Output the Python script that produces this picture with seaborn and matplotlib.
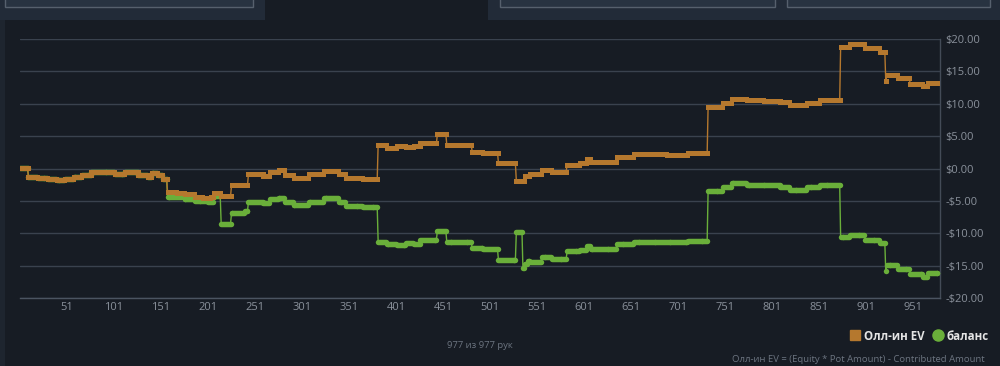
import numpy as np
import pandas as pd
import matplotlib
matplotlib.use("Agg")
import matplotlib.pyplot as plt
from matplotlib.lines import Line2D
from matplotlib.patches import Rectangle
import seaborn as sns

# ---------------- data ----------------
n_hands = 977
# All-in EV series: run start hands and levels ($)
ev_start = [1, 10, 20, 31, 40, 49, 58, 67, 77, 102, 113, 127, 137, 141, 148, 153, 158, 168, 176, 187,
            196, 204, 207, 215, 226, 244, 260, 267, 276, 283, 292, 308, 324, 340, 348, 366, 382, 391, 402, 412,
            420, 427, 445, 455, 482, 494, 510, 529, 538, 544, 556, 567, 583, 597, 604, 608, 636, 654, 689, 712,
            733, 749, 758, 774, 792, 810, 820, 838, 852, 874, 884, 900, 916, 922, 923, 935, 948, 962, 967]
ev_level = [0.1, -1.3, -1.45, -1.6, -1.75, -1.55, -1.35, -1.05, -0.47, -0.83, -0.52, -1.0, -1.25, -0.62, -0.94, -1.67, -3.65, -3.75, -4.0, -4.35,
            -4.5, -4.4, -3.75, -4.27, -2.6, -0.9, -1.1, -0.5, -0.2, -1.0, -1.4, -0.9, -0.4, -0.9, -1.5, -1.65, 3.7, 3.2, 3.5, 3.25,
            3.45, 3.9, 5.3, 3.7, 2.6, 2.4, 0.8, -1.9, -1.1, -0.8, -0.25, -0.5, 0.55, 0.9, 1.5, 1.0, 1.8, 2.2, 2.05, 2.35,
            9.5, 10.1, 10.8, 10.6, 10.5, 10.2, 9.8, 10.1, 10.55, 18.8, 19.2, 18.6, 18.0, 13.5, 14.45, 13.9, 13.1, 12.75, 13.25]
# Balance series
bal_start = [1, 10, 20, 31, 40, 49, 58, 67, 77, 102, 113, 127, 137, 141, 148, 153,
             158, 176, 187, 201, 207, 215, 226, 240, 244, 260, 267, 276, 283, 292, 308, 324, 340, 348, 366,
             382, 391, 402, 412, 420, 427, 445, 455, 482, 494, 510, 529, 536, 538, 541, 544, 556, 567, 583, 597,
             604, 608, 636, 654, 689, 712, 733, 749, 758, 774, 792, 810, 820, 838, 852, 874, 884, 900, 916, 922,
             923, 935, 948, 962, 967]
bal_level = [0.1, -1.3, -1.45, -1.6, -1.75, -1.55, -1.35, -1.05, -0.47, -0.83, -0.52, -1.0, -1.25, -0.62, -0.94, -1.67,
             -4.45, -4.75, -5.0, -5.1, -4.3, -8.5, -6.9, -6.6, -5.15, -5.4, -4.75, -4.5, -5.25, -5.67, -5.15, -4.6, -5.15, -5.8, -5.9,
             -11.3, -11.6, -11.8, -11.5, -11.7, -11.0, -9.6, -11.3, -12.3, -12.5, -14.2, -9.8, -15.3, -14.8, -14.3, -14.4, -13.6, -14.0, -12.8, -12.6,
             -12.0, -12.4, -11.7, -11.3, -11.4, -11.2, -3.45, -2.9, -2.26, -2.5, -2.6, -2.9, -3.3, -2.9, -2.5, -10.6, -10.2, -11.0, -11.5, -15.9,
             -14.9, -15.5, -16.3, -16.7, -16.1]
x_ticks = [51, 101, 151, 201, 251, 301, 351, 401, 451, 501, 551, 601, 651, 701, 751, 801, 851, 901, 951]
y_ticks = [-20, -15, -10, -5, 0, 5, 10, 15, 20]
series_names = ["Олл-ин EV", "баланс"]
count_text = "977 из 977 рук"
footer_text = "Олл-ин EV = (Equity * Pot Amount) - Contributed Amount"

assert len(ev_start) == len(ev_level) and len(bal_start) == len(bal_level)


def expand(starts, levels):
    bounds = list(starts) + [n_hands + 1]
    return np.repeat(levels, np.diff(bounds))


hands = np.arange(1, n_hands + 1)
df = pd.concat([
    pd.DataFrame({"hand": hands, "value": expand(ev_start, ev_level), "series": series_names[0]}),
    pd.DataFrame({"hand": hands, "value": expand(bal_start, bal_level), "series": series_names[1]}),
])

# ---------------- style ----------------
BG = "#171c24"
PANEL = "#222b38"
GRID = "#3a424e"
TXT = "#8a919b"
ORANGE = "#b5782e"
GREEN = "#6aaf3a"

sns.set_style("dark")
plt.rcParams["font.family"] = ["Open Sans", "DejaVu Sans"]

fig = plt.figure(figsize=(10, 3.66), dpi=100, facecolor=BG)

# top tab panels and left strip
W, H = 1000, 366
def frect(x, y, w, h, **kw):
    fig.patches.append(Rectangle((x / W, 1 - (y + h) / H), w / W, h / H,
                                 transform=fig.transFigure, figure=fig, **kw))

frect(0, 20, 5, 346, facecolor="#1e252f", edgecolor="none")
frect(0, 0, 265, 19.5, facecolor=PANEL, edgecolor="none")
frect(488, 0, 512, 19.5, facecolor=PANEL, edgecolor="none")
for bx, bw in [(5, 248), (500, 275), (787, 203)]:
    frect(bx, -2, bw, 9, facecolor="#283341", edgecolor="#56606d", linewidth=1)

ax = fig.add_axes([20 / W, 1 - 298 / H, 920 / W, 259 / H])
ax.set_facecolor(BG)

sub_b = df[df["series"] == series_names[1]]
sub_e = df[df["series"] == series_names[0]]
sns.lineplot(data=sub_b, x="hand", y="value", ax=ax, color=GREEN, linewidth=1.0,
             marker="o", markersize=3.9, markeredgewidth=0, estimator=None, sort=False, zorder=3)
sns.lineplot(data=sub_e, x="hand", y="value", ax=ax, color=ORANGE, linewidth=1.0,
             marker="s", markersize=3.6, markeredgewidth=0, estimator=None, sort=False, zorder=4)

ax.set_xlim(1, 979.7)
ax.set_ylim(-20, 20)
ax.set_xticks(x_ticks)
ax.set_xticklabels([str(t) for t in x_ticks])
ax.set_yticks(y_ticks)
ax.set_yticklabels([(f"-${abs(v):.2f}" if v < 0 else f"${v:.2f}") for v in y_ticks])
ax.yaxis.tick_right()
ax.tick_params(axis="both", length=0, colors=TXT, labelsize=8)
ax.tick_params(axis="x", pad=3)
ax.tick_params(axis="y", pad=4)
ax.set_xlabel("")
ax.set_ylabel("")
ax.grid(False)
ax.yaxis.grid(True, color=GRID, linewidth=1)
for s in ["top", "left"]:
    ax.spines[s].set_visible(False)
ax.spines["bottom"].set_color("#4b5461")
ax.spines["bottom"].set_linewidth(1)
ax.spines["right"].set_color("#434b57")
ax.spines["right"].set_linewidth(1)
if ax.get_legend() is not None:
    ax.get_legend().remove()

handles = [Line2D([], [], marker="s", color=ORANGE, linestyle="None", markersize=7.5),
           Line2D([], [], marker="o", color=GREEN, linestyle="None", markersize=8)]
leg = fig.legend(handles, series_names, loc="center right", bbox_to_anchor=(0.989, 1 - 336 / H),
                 ncol=2, frameon=False, handletextpad=0.25, columnspacing=0.7, handlelength=1.0,
                 borderaxespad=0, borderpad=0, prop={"size": 8.3, "weight": "bold"})
for t in leg.get_texts():
    t.set_color("#e4e4e4")

fig.text(480 / W, 1 - 345 / H, count_text, ha="center", va="center", color="#6c7480", fontsize=6.8)
fig.text(985 / W, 1 - 359.5 / H, footer_text, ha="right", va="center", color="#6c7480", fontsize=6.8)

fig.savefig("out.png", dpi=100, facecolor=BG)
